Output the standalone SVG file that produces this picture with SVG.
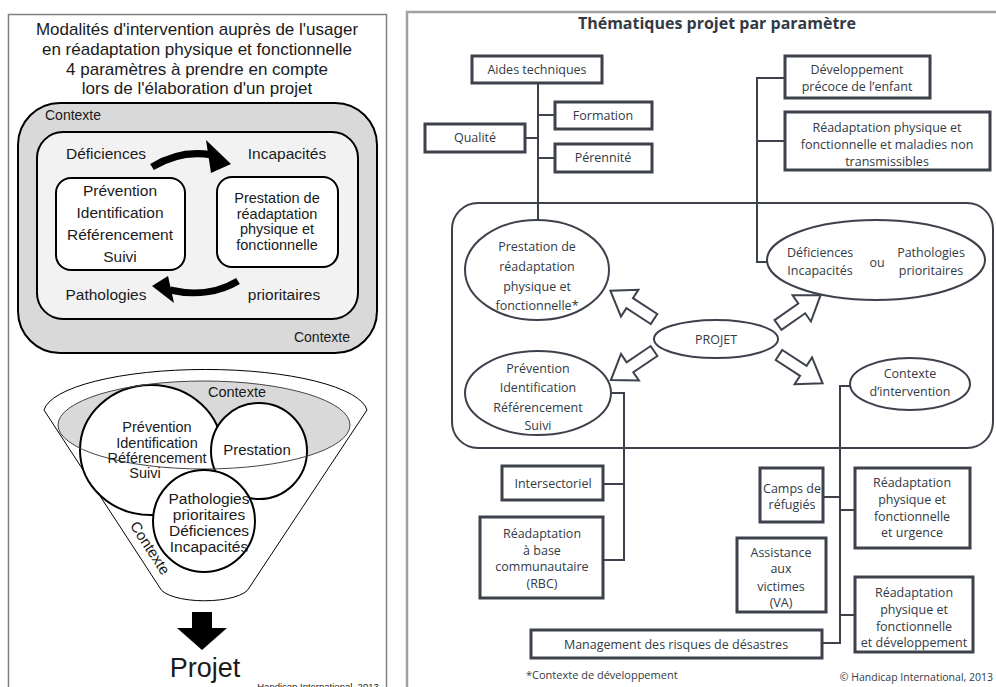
<svg xmlns="http://www.w3.org/2000/svg" width="996" height="687" viewBox="0 0 996 687">
<style>
.l{font-family:"Liberation Sans",Arial,sans-serif;fill:#1a1a1a;text-anchor:middle}
.r{font-family:"Open Sans","Noto Sans",sans-serif;fill:#333a44;text-anchor:middle;font-size:12.5px}
.box{fill:#fff;stroke:#3c414c;stroke-width:3}
.ln{fill:none;stroke:#3c414c;stroke-width:2}
.el{fill:#fff;stroke:#3c414c;stroke-width:2}
.ha{fill:#fff;stroke:#3c414c;stroke-width:2;stroke-linejoin:miter}
</style>
<defs>
<polygon id="harrow" points="0,-6 29,-6 29,-16 52,0 29,16 29,6 0,6"/>
</defs>
<rect x="0" y="0" width="996" height="687" fill="#fff"/>

<!-- LEFT PANEL -->
<g id="left-panel">
<rect x="8.5" y="14.5" width="378" height="690" fill="none" stroke="#808080" stroke-width="1.5"/>
<g id="left-title" class="l" font-size="17">
<text x="197" y="35">Modalités d'intervention auprès de l'usager</text>
<text x="197" y="55">en réadaptation physique et fonctionnelle</text>
<text x="197" y="75">4 paramètres à prendre en compte</text>
<text x="197" y="94">lors de l'élaboration d'un projet</text>
</g>
<g id="contexte-outer">
<rect x="18" y="103" width="359" height="250" rx="42" fill="#d9d9d9" stroke="#000" stroke-width="2"/>
<text class="l" x="45" y="120" font-size="14" style="text-anchor:start">Contexte</text>
<text class="l" x="350" y="342" font-size="14" style="text-anchor:end">Contexte</text>
</g>
<g id="cycle">
<rect x="37" y="132" width="321" height="187" rx="26" fill="#f2f2f2" stroke="#000" stroke-width="2"/>
<g class="l" font-size="15.5">
<text x="106" y="159">Déficiences</text>
<text x="287" y="159">Incapacités</text>
<text x="106" y="300">Pathologies</text>
<text x="284" y="300">prioritaires</text>
</g>
</g>
<g id="cycle-arrows">
<path d="M152,167 C170,156 190,151 212,155" fill="none" stroke="#000" stroke-width="7"/>
<polygon points="206,140 231,164 211,173" fill="#000"/>
<path d="M238,281 C220,292 196,296 170,290" fill="none" stroke="#000" stroke-width="7"/>
<polygon points="168,276 152,286 174,303" fill="#000"/>
</g>
<g id="box-prevention">
<rect x="56" y="178" width="129" height="92" rx="15" fill="#fff" stroke="#000" stroke-width="2"/>
<g class="l" font-size="15.5">
<text x="120" y="196">Prévention</text>
<text x="120" y="218">Identification</text>
<text x="120" y="240">Référencement</text>
<text x="120" y="262">Suivi</text>
</g>
</g>
<g id="box-prestation">
<rect x="217" y="177" width="121" height="90" rx="15" fill="#fff" stroke="#000" stroke-width="2"/>
<g class="l" font-size="14.5">
<text x="277" y="203">Prestation de</text>
<text x="277" y="218.5">réadaptation</text>
<text x="277" y="234">physique et</text>
<text x="277" y="249.5">fonctionnelle</text>
</g>
</g>
<g id="funnel">
<path d="M44,410 A162,44 0 0 1 367,410 L249,588 A45,15 0 0 1 160,588 Z" fill="#fff" stroke="#000" stroke-width="1"/>
<ellipse cx="204" cy="425" rx="146" ry="44" fill="#d9d9d9"/>
<text class="l" x="237" y="397" font-size="14.5">Contexte</text>
<text class="l" font-size="15" transform="translate(150,548) rotate(57)" y="5">Contexte</text>
</g>
<g id="circle-prevention">
<ellipse cx="151" cy="450" rx="71" ry="65" fill="#fff" stroke="#000" stroke-width="2"/>
</g>
<g id="circle-prestation">
<circle cx="259" cy="451" r="48" fill="#fff" stroke="#000" stroke-width="2"/>
</g>
<ellipse cx="204" cy="425" rx="146" ry="44" fill="none" stroke="#444" stroke-width="1"/>
<g class="l" font-size="14.5">
<text x="157" y="432">Prévention</text>
<text x="157" y="447.5">Identification</text>
<text x="157" y="463">Référencement</text>
<text x="145" y="478">Suivi</text>
<text x="257" y="455" font-size="15">Prestation</text>
</g>
<g id="circle-pathologies">
<circle cx="204" cy="521" r="51" fill="#fff" stroke="#000" stroke-width="2"/>
<g class="l" font-size="15.5">
<text x="209" y="504">Pathologies</text>
<text x="209" y="520">prioritaires</text>
<text x="209" y="536">Déficiences</text>
<text x="209" y="552">Incapacités</text>
</g>
</g>
<g id="projet-left">
<polygon points="192,612 212,612 212,628 227,628 202,650 177,628 192,628" fill="#000"/>
<text class="l" x="205" y="677" font-size="27">Projet</text>
<text class="l" x="318" y="690" font-size="9.5">Handicap International, 2013</text>
</g>
</g>

<!-- RIGHT PANEL -->
<g id="right-panel">
<rect x="407" y="12" width="600" height="690" fill="none" stroke="#a0a0a0" stroke-width="2.5"/>
<text class="r" x="717" y="29" style="font-size:16px;font-weight:bold">Thématiques projet par paramètre</text>
<rect x="452" y="203" width="541" height="245" rx="26" fill="none" stroke="#3c414c" stroke-width="2"/>

<g id="connectors">
<path class="ln" d="M538,83 V222 M538,115 H555 M525,138 H538 M538,158 H555"/>
<path class="ln" d="M785,78 H757 V262 H770 M757,141 H785"/>
<path class="ln" d="M610,393 H624 V560 H603 M603,484 H624"/>
<path class="ln" d="M851,386 H840 V643 H822 M823,497 H840 M840,510 H855 M840,615 H855"/>
<g id="hollow-arrows">
<use href="#harrow" class="ha" transform="translate(654,319) rotate(-147)"/>
<use href="#harrow" class="ha" transform="translate(654,351) rotate(146)"/>
<use href="#harrow" class="ha" transform="translate(778,325) rotate(-35)"/>
<use href="#harrow" class="ha" transform="translate(779,355) rotate(33)"/>
</g>
</g>

<g id="n-aides"><rect class="box" x="472" y="56" width="130" height="27"/><text class="r" x="537" y="74">Aides techniques</text></g>
<g id="n-formation"><rect class="box" x="555" y="102" width="97" height="27"/><text class="r" x="603" y="120">Formation</text></g>
<g id="n-qualite"><rect class="box" x="425" y="124" width="100" height="28"/><text class="r" x="475" y="142">Qualité</text></g>
<g id="n-perennite"><rect class="box" x="555" y="144" width="97" height="28"/><text class="r" x="603" y="162">Pérennité</text></g>
<g id="n-developpement"><rect class="box" x="785" y="56" width="145" height="42"/><text class="r" x="857" y="74">Développement</text><text class="r" x="857" y="91">précoce de l’enfant</text></g>
<g id="n-mnt"><rect class="box" x="785" y="112" width="205" height="58"/><text class="r" x="887" y="132">Réadaptation physique et</text><text class="r" x="887" y="149">fonctionnelle et maladies non</text><text class="r" x="887" y="166">transmissibles</text></g>

<g id="n-prestation"><ellipse class="el" cx="537" cy="270" rx="72" ry="50"/>
<text class="r" x="537" y="251">Prestation de</text><text class="r" x="537" y="271">réadaptation</text><text class="r" x="537" y="291">physique et</text><text class="r" x="537" y="310">fonctionnelle*</text></g>
<g id="n-deficiences"><ellipse class="el" cx="876" cy="260" rx="109" ry="40"/>
<text class="r" x="820" y="257">Déficiences</text><text class="r" x="820" y="275">Incapacités</text><text class="r" x="877" y="267">ou</text><text class="r" x="931" y="257">Pathologies</text><text class="r" x="931" y="275">prioritaires</text></g>
<g id="n-projet"><ellipse class="el" cx="716" cy="339" rx="62" ry="19"/><text class="r" x="716" y="344">PROJET</text></g>
<g id="n-prevention"><ellipse class="el" cx="538" cy="393" rx="73" ry="42"/>
<text class="r" x="538" y="373">Prévention</text><text class="r" x="538" y="392">Identification</text><text class="r" x="538" y="412">Référencement</text><text class="r" x="538" y="430">Suivi</text></g>
<g id="n-contexte"><ellipse class="el" cx="910" cy="384" rx="60" ry="26"/>
<text class="r" x="910" y="378">Contexte</text><text class="r" x="910" y="396">d’intervention</text></g>

<g id="n-intersectoriel"><rect class="box" x="502" y="466" width="101" height="34"/><text class="r" x="553" y="488">Intersectoriel</text></g>
<g id="n-rbc"><rect class="box" x="480" y="517" width="123" height="81"/>
<text class="r" x="542" y="538">Réadaptation</text><text class="r" x="542" y="555">à base</text><text class="r" x="542" y="571">communautaire</text><text class="r" x="542" y="588">(RBC)</text></g>
<g id="n-management"><rect class="box" x="531" y="630" width="291" height="28"/><text class="r" x="676" y="649">Management des risques de désastres</text></g>
<g id="n-camps"><rect class="box" x="760" y="468" width="63" height="54"/><text class="r" x="792" y="493">Camps de</text><text class="r" x="792" y="509">réfugiés</text></g>
<g id="n-urgence"><rect class="box" x="855" y="468" width="115" height="80"/>
<text class="r" x="912" y="487">Réadaptation</text><text class="r" x="912" y="504">physique et</text><text class="r" x="912" y="521">fonctionnelle</text><text class="r" x="912" y="537">et urgence</text></g>
<g id="n-va"><rect class="box" x="737" y="538" width="89" height="74"/>
<text class="r" x="781" y="557">Assistance</text><text class="r" x="781" y="573">aux</text><text class="r" x="781" y="591">victimes</text><text class="r" x="781" y="607">(VA)</text></g>
<g id="n-devel"><rect class="box" x="855" y="577" width="118" height="75"/>
<text class="r" x="914" y="597">Réadaptation</text><text class="r" x="914" y="614">physique et</text><text class="r" x="914" y="631">fonctionnelle</text><text class="r" x="914" y="647">et développement</text></g>

<text class="r" x="526" y="679" style="font-size:11px;text-anchor:start">*Contexte de développement</text>
<text class="r" x="993" y="681" style="font-size:10.5px;text-anchor:end">© Handicap International, 2013</text>
</g>
</svg>
